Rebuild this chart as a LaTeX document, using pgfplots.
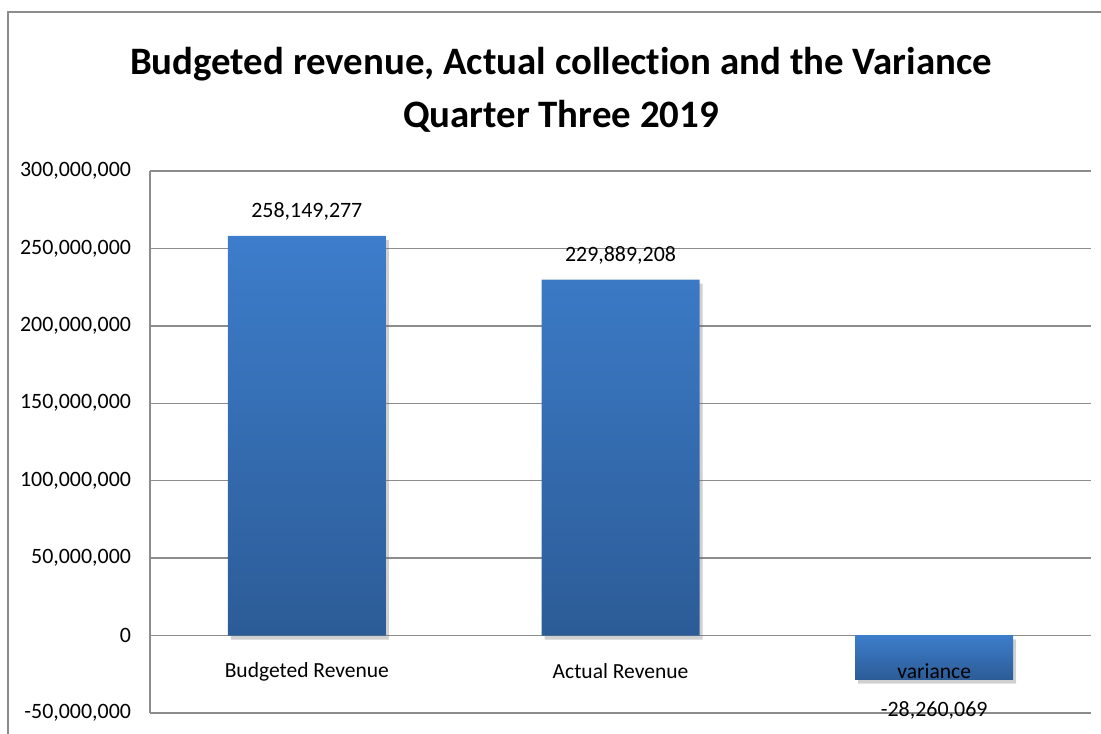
\documentclass[border=0pt]{standalone}
\usepackage{pgfplots}
\pgfplotsset{compat=1.18}
\usepackage{fontspec}
\setmainfont{Carlito}[Ligatures=NoCommon]
\usetikzlibrary{shadows}
\definecolor{bartop}{HTML}{3D7DCB}
\definecolor{barbot}{HTML}{2C5C97}
\definecolor{gridgray}{HTML}{8C8C8C}
\begin{document}
\begin{tikzpicture}
\path[use as bounding box] (0bp,0bp) rectangle (550.5bp,367bp);
% outer chart frame
\draw[gridgray, line width=0.9bp] (4bp,0bp) -- (4bp,361bp) -- (550.5bp,361bp);
% title
\node[font=\bfseries\fontsize{19.5}{24}\selectfont, anchor=base] at (280.5bp,329.5bp) {Budgeted revenue, Actual collection and the Variance};
\node[font=\bfseries\fontsize{19.5}{24}\selectfont, anchor=base] at (280.5bp,303bp) {Quarter Three 2019};
\begin{axis}[
  at={(75bp,10.5bp)}, anchor=south west,
  scale only axis,
  width=470.5bp, height=271bp,
  xmin=-0.5, xmax=2.5,
  ymin=-50000000, ymax=300000000,
  ytick={-50000000,0,50000000,100000000,150000000,200000000,250000000,300000000},
  scaled y ticks=false,
  /pgf/number format/fixed,
  /pgf/number format/precision=0,
  /pgf/number format/1000 sep={,},
  /pgf/number format/assume math mode=true,
  yticklabel style={font=\fontsize{11}{13}\selectfont, xshift=-6bp},
  xtick=\empty,
  major tick length=0pt,
  ymajorgrids,
  grid style={gridgray, line width=0.75bp},
  axis line style={gridgray, line width=0.75bp},
  axis x line*=bottom,
  axis y line*=left,
  ybar, bar shift=0pt,
  bar width=79bp,
  nodes near coords,
  point meta=explicit symbolic,
  nodes near coords style={font=\fontsize{11}{13}\selectfont, anchor=center},
  clip=false,
]
\addplot[draw=none, top color=bartop, bottom color=barbot,
  drop shadow={top color=black!60, bottom color=black!60, opacity=0.18, shadow xshift=1.5bp, shadow yshift=-2bp},
  nodes near coords style={yshift=12bp}]
  coordinates {(0,258149277) [258,149,277] (1,229889208) [229,889,208]};
\addplot[draw=none, top color=bartop, bottom color=barbot,
  drop shadow={top color=black!60, bottom color=black!60, opacity=0.18, shadow xshift=1.5bp, shadow yshift=-2bp},
  nodes near coords style={yshift=-15.5bp}]
  coordinates {(2,-28260069) [-28,260,069]};
\node[font=\fontsize{10.8}{12}\selectfont, anchor=center, yshift=-18bp] at (axis cs:0,0) {Budgeted Revenue};
\node[font=\fontsize{10.8}{12}\selectfont, anchor=center, yshift=-18bp] at (axis cs:1,0) {Actual Revenue};
\node[font=\fontsize{10.8}{12}\selectfont, anchor=center, yshift=-18bp] at (axis cs:2,0) {variance};
\end{axis}
\end{tikzpicture}
\end{document}
